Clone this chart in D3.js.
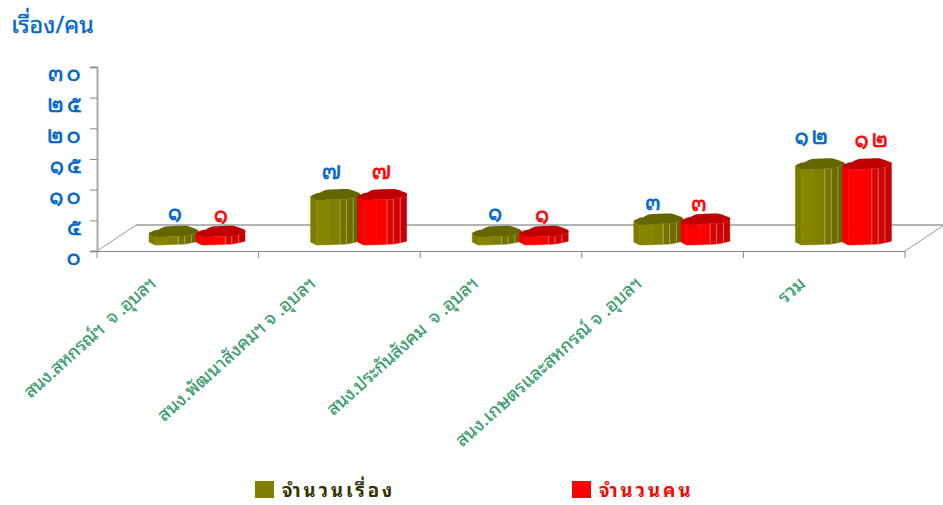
<!DOCTYPE html>
<html>
<head>
<meta charset="utf-8">
<script src="https://cdn.jsdelivr.net/npm/d3@7"></script>
<style>
body { margin: 0; background: #fff; }
text { font-family: "Noto Sans Thai Looped", "Noto Serif Thai", "Loma", "Garuda", "Tahoma", "Noto Sans Thai", "Noto Sans", "DejaVu Sans", "Liberation Sans", sans-serif; }
</style>
</head>
<body>
<div id="chart"></div>
<script>
// Chart data
var categories = ["สนง.สหกรณ์ฯ  จ .อุบลฯ", "สนง.พัฒนาสังคมฯ จ .อุบลฯ", "สนง.ประกันสังคม  จ .อุบลฯ", "สนง.เกษตรและสหกรณ์ จ .อุบลฯ", "รวม"];
var seriesNames = ["จำนวนเรื่อง", "จำนวนคน"];
var storyValues = [1, 7, 1, 3, 12];
var peopleValues = [1, 7, 1, 3, 12];
var yTicks = [0, 5, 10, 15, 20, 25, 30];
var thaiDigits = ["๐", "๑", "๒", "๓", "๔", "๕", "๖", "๗", "๘", "๙"];

function toThai(n) {
    return String(n).split("").map(d => thaiDigits[+d]).join("");
}

var svgWidth = 943, svgHeight = 505;
var svg = d3.select("#chart").append("svg")
    .attr("width", svgWidth)
    .attr("height", svgHeight)
    .style("display", "block");

// Scales
var yScale = d3.scaleLinear().domain([0, 30]).range([251, 67]);
var xScale = d3.scaleBand().domain(categories).range([97, 905]);
var barScale = d3.scaleBand().domain(seriesNames).range([52, 146]);

// Floor of the 3D plot
var depthX = 39, depthY = 26;
svg.append("line").attr("x1", 97).attr("y1", 251).attr("x2", 97 + depthX).attr("y2", 251 - depthY)
    .attr("stroke", "#999");
svg.append("line").attr("x1", 97 + depthX).attr("y1", 225).attr("x2", 943).attr("y2", 225)
    .attr("stroke", "#b4b4b4").attr("stroke-width", 2);
svg.append("line").attr("x1", 905).attr("y1", 251).attr("x2", 905 + depthX).attr("y2", 251 - depthY)
    .attr("stroke", "#999");

// Y axis
var yAxis = d3.axisLeft(yScale).tickValues(yTicks).tickSize(7).tickFormat(toThai);
var yGroup = svg.append("g").attr("transform", "translate(97,0)").call(yAxis);
yGroup.select(".domain").attr("stroke", "#aaa").attr("stroke-width", 2);
yGroup.selectAll(".tick line").attr("stroke", "#888");
yGroup.selectAll(".tick text")
    .attr("x", -13).attr("dy", "0.66em")
    .attr("fill", "#0066cc")
    .attr("stroke", "#0066cc").attr("stroke-width", 0.7)
    .style("font-size", "21px").style("letter-spacing", "3.5px");

// X axis
var xAxis = d3.axisBottom(xScale).tickValues([]).tickSizeOuter(0);
var xGroup = svg.append("g").attr("transform", "translate(0,251)").call(xAxis);
xGroup.select(".domain").attr("stroke", "#888");
var xTickEdges = categories.map(c => xScale(c)).concat([905]);
xGroup.selectAll("line.edge").data(xTickEdges).enter().append("line")
    .attr("class", "edge")
    .attr("x1", d => d).attr("x2", d => d)
    .attr("y1", 0).attr("y2", 7)
    .attr("stroke", "#888");

// Category labels, stretched to the lengths measured in the picture
var catLengths = [170, 205, 196, 243, 29];
var catDx = [60, 58, 59, 61, 63];
svg.selectAll("text.cat").data(categories).enter().append("text")
    .attr("class", "cat")
    .attr("transform", (d, i) => `translate(${xScale(d) + catDx[i]},${285}) rotate(-42)`)
    .attr("text-anchor", "end")
    .attr("textLength", (d, i) => catLengths[i])
    .attr("lengthAdjust", "spacing")
    .attr("fill", "#339966")
    .attr("stroke", "#339966").attr("stroke-width", 0.2)
    .style("white-space", "pre")
    .style("font-size", "18px")
    .text(d => d);

// Lumpy cylinder outline, as fractions of bar width / top depth
var frontEdge = [[0, 0.28], [0.12, 0], [0.38, 0.02], [0.6, 0.07], [0.73, 0.08], [0.87, 0.2], [1, 0.35]];
var backEdge = [[1, 0.62], [0.76, 1], [0.32, 0.93], [0.2, 0.68], [0.1, 0.58], [0, 0.36]];
var barLine = d3.line();

var palettes = [
    { top: "#666600", strips: ["#7c7c00", "#858500", "#808000", "#737300", "#6e6e00", "#666600"], edge: "rgba(255,255,190,0.45)" },
    { top: "#c00000", strips: ["#f00000", "#ff0000", "#fb0000", "#dc0000", "#d20000", "#c40000"], edge: "rgba(255,220,220,0.55)" }
];
var labelColors = ["#0066cc", "#ff0000"];
var allValues = [storyValues, peopleValues];
var barWidth = 49, topDepth = 11, barBase = 245;

// Label nudges, per series and bar
var labelDx = [[3, -2, 0, -4, -7], [2, 1, 0, -5, 6]];
var labelRise = [[17, 21, 17, 15, 25], [15, 21, 15, 14, 22]];

seriesNames.forEach(function(name, s) {
    var pal = palettes[s];
    var group = svg.append("g").attr("class", "series");

    allValues[s].forEach(function(value, i) {
        var left = xScale(categories[i]) + barScale(name);
        var topFront = yScale(value) - 8;

        // Point on the top (or bottom) outline
        var px = p => left + p[0] * barWidth;
        var py = (p, yy) => yy - p[1] * topDepth;

        // Front strips with their own shade
        frontEdge.slice(0, -1).forEach(function(p, k) {
            var q = frontEdge[k + 1];
            var pts = [
                [px(p), py(p, topFront)], [px(q), py(q, topFront)],
                [px(q), py(q, barBase)], [px(p), py(p, barBase)]
            ];
            group.append("path")
                .attr("d", barLine(pts) + "Z")
                .attr("fill", pal.strips[k])
                .attr("stroke", pal.strips[k])
                .attr("stroke-width", 0.5);
            if (k > 2) {
                group.append("line")
                    .attr("x1", px(p)).attr("y1", py(p, topFront))
                    .attr("x2", px(p)).attr("y2", py(p, barBase))
                    .attr("stroke", pal.edge).attr("stroke-width", 0.8);
            }
        });

        // Top face
        var outline = frontEdge.concat(backEdge).map(p => [px(p), py(p, topFront)]);
        group.append("path")
            .attr("d", d3.line().curve(d3.curveCardinalClosed.tension(0.6))(outline))
            .attr("fill", pal.top);

        // Value label
        group.append("text")
            .attr("x", left + barWidth / 2 + labelDx[s][i])
            .attr("y", topFront - labelRise[s][i])
            .attr("text-anchor", "middle")
            .attr("fill", labelColors[s])
            .attr("stroke", labelColors[s]).attr("stroke-width", 0.7)
            .style("font-size", "21px").style("letter-spacing", "3px")
            .text(toThai(value));
    });
});

// Y axis title
svg.append("text")
    .attr("x", 11).attr("y", 33)
    .attr("fill", "#0066cc")
    .attr("stroke", "#0066cc").attr("stroke-width", 0.3)
    .style("font-size", "23.5px")
    .text("เรื่อง/คน");

// Legend
var legendX = [255, 572];
var legendText = ["#333300", "#ff0000"];
var legendSwatch = ["#808000", "#ff0000"];
seriesNames.forEach(function(name, s) {
    svg.append("rect")
        .attr("x", legendX[s]).attr("y", 481)
        .attr("width", 19).attr("height", 17)
        .attr("fill", legendSwatch[s]);
    svg.append("text")
        .attr("x", legendX[s] + 27).attr("y", 497)
        .attr("fill", legendText[s])
        .style("font-size", "18.5px").style("font-weight", "bold").style("letter-spacing", "3px")
        .text(name);
});
</script>
</body>
</html>
